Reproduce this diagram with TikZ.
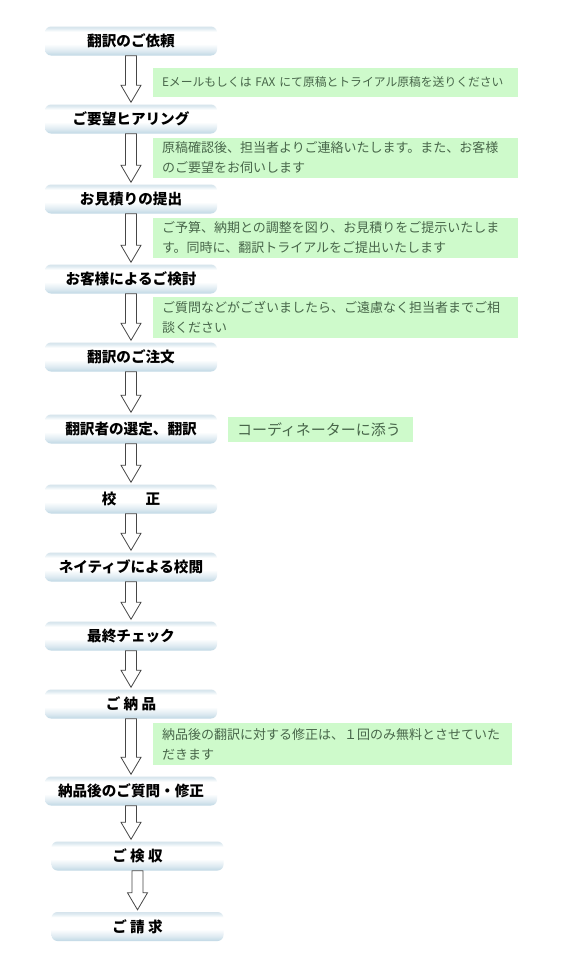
\documentclass[tikz,border=0pt]{standalone}
\usepackage{fontspec}
\setmainfont{Noto Sans CJK JP}
\usetikzlibrary{calc}
\definecolor{bxbot}{RGB}{192,216,229}
\definecolor{bxlow}{RGB}{222,234,241}
\definecolor{bxtop}{RGB}{214,228,236}
\definecolor{notebg}{RGB}{206,250,203}
\definecolor{notetxt}{RGB}{72,102,74}
\definecolor{arrline}{RGB}{70,70,70}
\pgfdeclareverticalshading{boxshade}{100bp}{color(0bp)=(bxbot); color(25bp)=(bxbot); color(33bp)=(bxlow); color(45bp)=(white); color(66bp)=(white); color(72bp)=(bxlow); color(75bp)=(bxtop); color(100bp)=(bxtop)}
\newcommand{\flowarrow}[2]{%
  \path[draw=arrline, fill=white, line width=0.8pt, line join=miter]
    let \p1=(#1.south), \p2=(#2.north) in
    (\x1-5.5pt,\y1) -- (\x1-5.5pt,\y2+19pt) -- (\x1-10pt,\y2+19pt) -- (\x1,\y2+2pt)
    -- (\x1+10pt,\y2+19pt) -- (\x1+5.5pt,\y2+19pt) -- (\x1+5.5pt,\y1) -- cycle;
}
\begin{document}
\begin{tikzpicture}[x=1pt,y=-1pt,
  stepbox/.style={rounded corners=6pt, shading=boxshade, minimum width=172pt,
    minimum height=29pt, inner sep=0pt, font=\fontsize{14.6}{16}\selectfont\bfseries, text=black},
  notebox/.style={fill=notebg, inner xsep=9pt, inner ysep=0pt, align=left,
    text=notetxt, font=\fontsize{13}{20}\selectfont}]
\path[fill=white, use as bounding box] (0,0) rectangle (560,972);
% steps
\node[stepbox] (b1)  at (131,41)  {翻訳のご依頼};
\node[stepbox] (b2)  at (131,119) {ご要望ヒアリング};
\node[stepbox] (b3)  at (131,199) {お見積りの提出};
\node[stepbox] (b4)  at (131,279) {お客様によるご検討};
\node[stepbox] (b5)  at (131,357) {翻訳のご注文};
\node[stepbox] (b6)  at (131,429) {翻訳者の選定、翻訳};
\node[stepbox] (b7)  at (131,499) {校　　正};
\node[stepbox] (b8)  at (131,567) {ネイティブによる校閲};
\node[stepbox] (b9)  at (131,636) {最終チェック};
\node[stepbox] (b10) at (131,704) {ご 納 品};
\node[stepbox] (b11) at (131,791) {納品後のご質問・修正};
\node[stepbox] (b12) at (137.5,856) {ご 検 収};
\node[stepbox] (b13) at (137.5,926.5) {ご 請 求};
% notes
\node[notebox, text width=347pt, minimum height=29pt, font=\fontsize{11.8}{20}\selectfont] (n1) at (335.5,82.5)
  {\mbox{Eメールもしくは FAX にて原稿とトライアル原稿を送りください}};
\node[notebox, text width=347pt, minimum height=40pt] (n2) at (335.5,158)
  {原稿確認後、担当者よりご連絡いたします。また、お客様\\のご要望をお伺いします};
\node[notebox, text width=347pt, minimum height=40pt] (n3) at (335.5,238)
  {ご予算、納期との調整を図り、お見積りをご提示いたしま\\す。同時に、翻訳トライアルをご提出いたします};
\node[notebox, text width=347pt, minimum height=41pt] (n4) at (335.5,317.5)
  {ご質問などがございましたら、ご遠慮なく担当者までご相\\談ください};
\node[notebox, text width=167pt, minimum height=25pt, font=\fontsize{15}{18}\selectfont] (n5) at (320.5,429.5)
  {コーディネーターに添う};
\node[notebox, text width=341pt, minimum height=42pt] (n6) at (332.5,744)
  {納品後の翻訳に対する修正は、１回のみ無料とさせていた\\だきます};
% arrows
\flowarrow{b1}{b2}
\flowarrow{b2}{b3}
\flowarrow{b3}{b4}
\flowarrow{b4}{b5}
\flowarrow{b5}{b6}
\flowarrow{b6}{b7}
\flowarrow{b7}{b8}
\flowarrow{b8}{b9}
\flowarrow{b9}{b10}
\flowarrow{b10}{b11}
\flowarrow{b11}{b12}
\flowarrow{b12}{b13}
\end{tikzpicture}
\end{document}
